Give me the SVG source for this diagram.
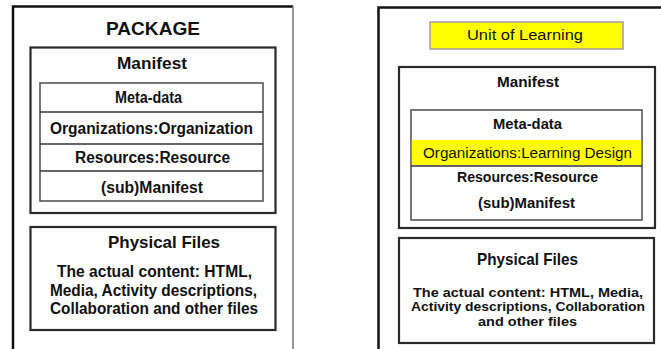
<svg xmlns="http://www.w3.org/2000/svg" width="661" height="349" viewBox="0 0 661 349">
<style>
text{font-family:"Liberation Sans",Arial,sans-serif;fill:#111;text-anchor:middle}
.t{font-size:18.5px;font-weight:bold}
.h{font-size:17px;font-weight:bold}
.r{font-size:16px;font-weight:bold}
.s{font-size:15px;font-weight:bold}
.p{font-size:13.5px;font-weight:bold}
.y{font-size:15.5px;font-weight:normal}
.box{fill:#fff;stroke:#2a2a2a;stroke-width:2.2}
.inner{fill:#fff;stroke:#555;stroke-width:1.6}
.div{stroke:#333;stroke-width:1.6}
.yel{fill:#ffff00;stroke:#a898a8;stroke-width:1.5}
</style>
<rect width="661" height="349" fill="#fff"/>

<g id="package">
  <path d="M13,349 V6.5 H293" fill="none" stroke="#111" stroke-width="2.5"/>
  <path d="M293,6 V349" fill="none" stroke="#777" stroke-width="1.5"/>
  <text class="t" x="153" y="35" textLength="94" lengthAdjust="spacingAndGlyphs">PACKAGE</text>
</g>

<g id="manifest-left">
  <rect class="box" x="30.5" y="47.5" width="245" height="165.5"/>
  <text class="h" x="152" y="69" textLength="70" lengthAdjust="spacingAndGlyphs">Manifest</text>
</g>

<g id="manifest-list-left">
  <rect class="inner" x="40" y="83" width="223" height="118"/>
  <line class="div" x1="40" y1="112" x2="263" y2="112"/>
  <line class="div" x1="40" y1="144" x2="263" y2="144"/>
  <line class="div" x1="40" y1="171" x2="263" y2="171"/>
  <text class="r" x="148.5" y="102.5" textLength="67" lengthAdjust="spacingAndGlyphs">Meta-data</text>
  <text class="r" x="151.5" y="133.5" textLength="203" lengthAdjust="spacingAndGlyphs">Organizations:Organization</text>
  <text class="r" x="152.5" y="162.5" textLength="155" lengthAdjust="spacingAndGlyphs">Resources:Resource</text>
  <text class="r" x="152" y="193" textLength="102" lengthAdjust="spacingAndGlyphs">(sub)Manifest</text>
</g>

<g id="physical-left">
  <rect class="box" x="30.5" y="227" width="245" height="103"/>
  <text class="h" x="164" y="248" textLength="112" lengthAdjust="spacingAndGlyphs">Physical Files</text>
  <text class="r" x="154.5" y="277" textLength="195" lengthAdjust="spacingAndGlyphs">The actual content: HTML,</text>
  <text class="r" x="153.5" y="295.5" textLength="207" lengthAdjust="spacingAndGlyphs">Media, Activity descriptions,</text>
  <text class="r" x="154" y="314" textLength="208" lengthAdjust="spacingAndGlyphs">Collaboration and other files</text>
</g>

<g id="unit-of-learning-frame">
  <path d="M378.5,349 V7.5 H661" fill="none" stroke="#111" stroke-width="2.5"/>
</g>

<g id="unit-of-learning">
  <rect class="yel" x="430" y="22" width="193" height="27"/>
  <text class="y" x="525" y="39.5" textLength="116" lengthAdjust="spacingAndGlyphs">Unit of Learning</text>
</g>

<g id="manifest-right">
  <rect class="box" x="399" y="67" width="256" height="161"/>
  <text class="s" x="528" y="87" textLength="62" lengthAdjust="spacingAndGlyphs">Manifest</text>
</g>

<g id="manifest-list-right">
  <rect class="inner" x="411" y="110" width="231" height="110"/>
  <rect x="411.8" y="140" width="229.4" height="25" fill="#ffff00"/>
  <line class="div" x1="411" y1="166" x2="642" y2="166"/>
  <text class="s" x="527.5" y="128.5" textLength="69" lengthAdjust="spacingAndGlyphs">Meta-data</text>
  <text class="y" x="527.5" y="158" textLength="209" lengthAdjust="spacingAndGlyphs">Organizations:Learning Design</text>
  <text class="s" x="527.5" y="182" textLength="141" lengthAdjust="spacingAndGlyphs">Resources:Resource</text>
  <text class="s" x="526.5" y="208" textLength="97" lengthAdjust="spacingAndGlyphs">(sub)Manifest</text>
</g>

<g id="physical-right">
  <rect class="box" x="399" y="238" width="255" height="105"/>
  <text class="h" x="527.5" y="265" textLength="101" lengthAdjust="spacingAndGlyphs">Physical Files</text>
  <text class="p" x="528" y="296.5" textLength="230" lengthAdjust="spacingAndGlyphs">The actual content: HTML, Media,</text>
  <text class="p" x="528" y="311" textLength="234" lengthAdjust="spacingAndGlyphs">Activity descriptions, Collaboration</text>
  <text class="p" x="527.5" y="325.5" textLength="99" lengthAdjust="spacingAndGlyphs">and other files</text>
</g>

<g id="connectors"></g>
</svg>
